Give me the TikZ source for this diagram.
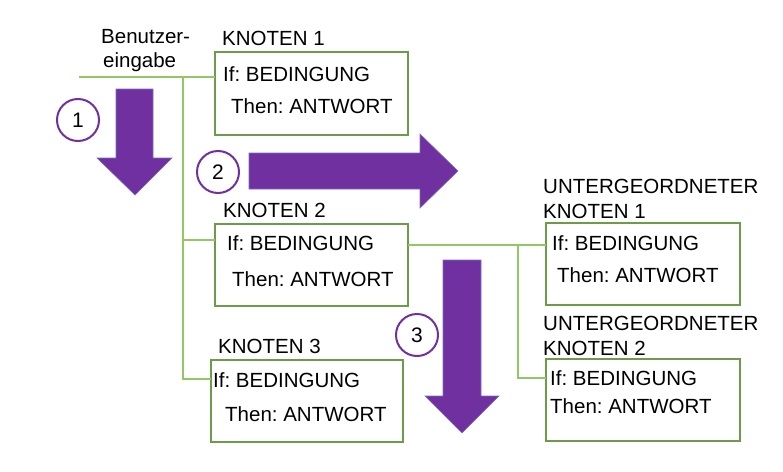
\documentclass[tikz,border=0pt]{standalone}
\usepackage{fontspec}
\setmainfont{Liberation Sans}
\frenchspacing
\definecolor{boxgreen}{RGB}{108,156,74}
\definecolor{linegreen}{RGB}{146,200,100}
\definecolor{purp}{RGB}{112,48,160}
\definecolor{arrowedge}{RGB}{120,110,190}
\tikzset{
  nbox/.style={draw=boxgreen, line width=2pt, anchor=north west, inner sep=0pt, outer sep=0pt, rectangle},
  conn/.style={draw=linegreen, line width=2pt},
  lbl/.style={anchor=base west, inner sep=0pt, font=\fontsize{20.5}{24}\selectfont},
  txt/.style={anchor=base west, inner sep=0pt, font=\fontsize{20.5}{24}\selectfont},
  num/.style={circle, draw=purp, line width=2pt, fill=white, minimum size=42pt, inner sep=0pt, font=\fontsize{21}{24}\selectfont},
  bigarrow/.style={fill=purp, draw=arrowedge, line width=0.6pt, line join=miter}
}
\begin{document}
\begin{tikzpicture}[x=1pt,y=-1pt]
\useasboundingbox (0,0) rectangle (783,471);

% input text
\node[txt] (b1) at (101,43) {Benutzer-};
\node[txt] (b2) at (103,67) {eingabe};

% boxes
\node[nbox, minimum width=193pt, minimum height=83pt] (k1) at (215,52) {};
\node[nbox, minimum width=193pt, minimum height=82pt] (k2) at (215,224) {};
\node[nbox, minimum width=192pt, minimum height=82pt] (k3) at (211,360) {};
\node[nbox, minimum width=194pt, minimum height=82pt] (u1) at (546,223) {};
\node[nbox, minimum width=194pt, minimum height=82pt] (u2) at (546,359) {};

% labels
\node[lbl] (l1) at (222,45) {KNOTEN 1};
\node[lbl] (l2) at (223,217) {KNOTEN 2};
\node[lbl] (l3) at (218,353) {KNOTEN 3};
\node[lbl] (l4a) at (543,193) {UNTERGEORDNETER};
\node[lbl] (l4b) at (543,218) {KNOTEN 1};
\node[lbl] (l5a) at (543,330) {UNTERGEORDNETER};
\node[lbl] (l5b) at (543,355) {KNOTEN 2};

% box texts
\node[txt] (k1if) at (223,81) {If: BEDINGUNG};
\node[txt] (k1th) at (231,113) {Then: ANTWORT};
\node[txt] (k2if) at (227,250) {If: BEDINGUNG};
\node[txt] (k2th) at (232,286) {Then: ANTWORT};
\node[txt] (k3if) at (213,387) {If: BEDINGUNG};
\node[txt] (k3th) at (225,421) {Then: ANTWORT};
\node[txt] (u1if) at (552,250) {If: BEDINGUNG};
\node[txt] (u1th) at (557,282) {Then: ANTWORT};
\node[txt] (u2if) at (550,385) {If: BEDINGUNG};
\node[txt] (u2th) at (550,413) {Then: ANTWORT};

% connectors
\coordinate (start) at (79,77);
\coordinate (j1) at (183,77);
\coordinate (j2) at (183,240);
\coordinate (j3) at (183,379);
\coordinate (j4) at (518,245);
\coordinate (j5) at (518,378);
\draw[conn] (start) -- (k1.west |- start);
\draw[conn] (j1) -- (j3) -- (k3.west |- j3);
\draw[conn] (j2) -- (k2.west |- j2);
\draw[conn] (k2.east |- j4) -- (u1.west |- j4);
\draw[conn] (j4) -- (j5) -- (u2.west |- j5);

% big arrows
\draw[bigarrow] (116,89) -- (153,89) -- (153,158) -- (172,158) -- (135,195) -- (97,158) -- (116,158) -- cycle;
\draw[bigarrow] (249,153) -- (420,153) -- (420,134) -- (458,171) -- (420,208) -- (420,189) -- (249,189) -- cycle;
\draw[bigarrow] (443,260) -- (481,260) -- (481,396) -- (499,396) -- (462,433) -- (425,396) -- (443,396) -- cycle;

% numbers
\node[num] (n1) at (78,120) {1};
\node[num] (n2) at (218,172) {2};
\node[num] (n3) at (417,335) {3};
\end{tikzpicture}
\end{document}
